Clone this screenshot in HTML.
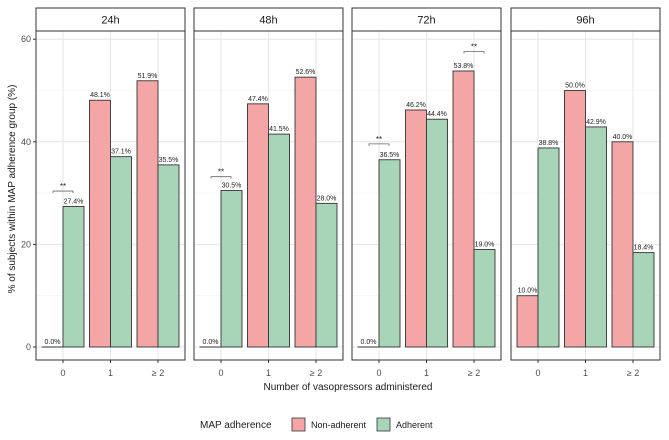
<!DOCTYPE html>
<html><head><meta charset="utf-8"><style>
body{margin:0;background:#fff;font-family:"Liberation Sans",Arial,sans-serif}
svg text{font-family:"Liberation Sans",Arial,sans-serif}
</style></head><body>
<svg id="c" width="669" height="435" xmlns="http://www.w3.org/2000/svg"></svg>
<script>
const panels=["24h","48h","72h","96h"];
const categories=["0","1","≥ 2"];
const nonAdherent=[[0.0,48.1,51.9],[0.0,47.4,52.6],[0.0,46.2,53.8],[10.0,50.0,40.0]];
const adherent=[[27.4,37.1,35.5],[30.5,41.5,28.0],[36.5,44.4,19.0],[38.8,42.9,18.4]];
const yTicks=[0,20,40,60];
const sig=[[0,0,30.4],[1,0,33.2],[2,0,39.6],[2,2,57.6]];
const NS="http://www.w3.org/2000/svg";
const svg=document.getElementById('c');
function el(t,a,p){const e=document.createElementNS(NS,t);for(const k in a)e.setAttribute(k,a[k]);(p||svg).appendChild(e);return e;}
const pLeft=[36,194,352,511],pW=149,pTop=31,pBot=360;
const y=v=>347-v*5.13;
const xc=(p,i)=>pLeft[p]+27+i*47.5;
const bw=21;
panels.forEach((name,p)=>{
  const g=el('g',{});
  
  
  const L=pLeft[p];
  el('rect',{x:L,y:8,width:pW,height:23,fill:'#fff',stroke:'#333','stroke-width':1},g);
  const st=el('text',{x:L+pW/2,y:23.5,'text-anchor':'middle','font-size':11,fill:'#1a1a1a'},g);st.textContent=name;
  
  
  [10,30,50].forEach(v=>el('line',{x1:L,x2:L+pW,y1:y(v),y2:y(v),stroke:'#f2f2f2','stroke-width':0.6},g));
  yTicks.forEach(v=>el('line',{x1:L,x2:L+pW,y1:y(v),y2:y(v),stroke:'#e6e6e6','stroke-width':1},g));
  categories.forEach((c,i)=>{
    el('line',{x1:xc(p,i),x2:xc(p,i),y1:pTop,y2:pBot,stroke:'#e6e6e6','stroke-width':1},g);
    const cx=xc(p,i);
    [[nonAdherent[p][i],'#f4a6a6',cx-bw,'bar-non-adherent'],[adherent[p][i],'#a8d5b8',cx,'bar-adherent']].forEach(([v,col,x0,nm])=>{
      const r=el('rect',{x:x0,y:y(v),width:bw,height:Math.max(0.01,y(0)-y(v)),fill:col,stroke:'#333','stroke-width':0.9},g);
      
      
      if(v===0)el('line',{x1:x0,x2:x0+bw,y1:y(0),y2:y(0),stroke:'#333','stroke-width':1},g);
      const t=el('text',{x:x0+bw/2,y:y(v)-3,'text-anchor':'middle','font-size':7,fill:'#222'},g);t.textContent=v.toFixed(1)+'%';
      
      
    });
    el('line',{x1:cx,x2:cx,y1:pBot,y2:pBot+3,stroke:'#333'},g);
    const tl=el('text',{x:cx,y:376,'text-anchor':'middle','font-size':9,fill:'#4d4d4d'},g);tl.textContent=c;
    
    
  });
  el('rect',{x:L,y:pTop,width:pW,height:pBot-pTop,fill:'none',stroke:'#333','stroke-width':1},g);
});
sig.forEach(([p,i,lv])=>{
  const cx=xc(p,i),yy=y(lv);
  el('path',{d:`M${cx-10},${yy+2}V${yy}H${cx+10}V${yy+2}`,fill:'none',stroke:'#666','stroke-width':0.8});
  const s=el('text',{x:cx,y:yy-2,'text-anchor':'middle','font-size':8,fill:'#222'});s.textContent='**';
  
  
});
yTicks.forEach(v=>{
  el('line',{x1:33,x2:36,y1:y(v),y2:y(v),stroke:'#333'});
  const t=el('text',{x:31,y:y(v)+3,'text-anchor':'end','font-size':9,fill:'#4d4d4d'});t.textContent=v;
  
  
});
const yt=el('text',{x:0,y:0,transform:'translate(15,189) rotate(-90)','text-anchor':'middle','font-size':10,fill:'#1a1a1a'});yt.textContent='% of subjects within MAP adherence group (%)';


const xt=el('text',{x:348,y:390,'text-anchor':'middle','font-size':10,fill:'#1a1a1a'});xt.textContent='Number of vasopressors administered';


const lg=el('g',{});


const lt=el('text',{x:200,y:428,'font-size':10,fill:'#1a1a1a'},lg);lt.textContent='MAP adherence';
el('rect',{x:292,y:418,width:13,height:13,fill:'#f4a6a6',stroke:'#333','stroke-width':0.8},lg);
const l1=el('text',{x:311,y:428,'font-size':9,fill:'#1a1a1a'},lg);l1.textContent='Non-adherent';


el('rect',{x:377,y:418,width:13,height:13,fill:'#a8d5b8',stroke:'#333','stroke-width':0.8},lg);
const l2=el('text',{x:396,y:428,'font-size':9,fill:'#1a1a1a'},lg);l2.textContent='Adherent';


</script>
</body></html>
